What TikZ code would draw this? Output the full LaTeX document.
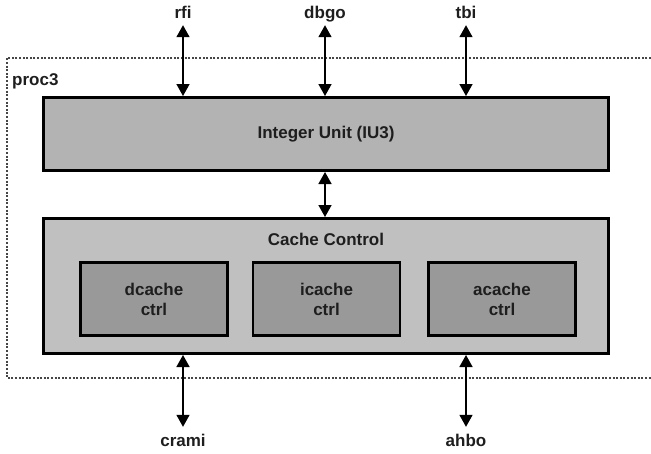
\documentclass[tikz,border=0pt]{standalone}
\usepackage{fontspec}
\setmainfont{Liberation Sans}
\usetikzlibrary{arrows.meta, positioning}
\definecolor{iugray}  {RGB}{179, 179, 179}
\definecolor{ccgray}  {RGB}{192, 192, 192}
\definecolor{subgray} {RGB}{153, 153, 153}
\definecolor{txtdark} {RGB}{ 30,  30,  30}
\definecolor{procdot} {RGB}{ 70,  70,  70}
\tikzset{
	lbl/.style={font=\fontsize{17}{20}\selectfont\bfseries, text=txtdark},
	unitbox/.style={lbl, draw=black, line width=3pt, inner sep=0pt, minimum width=565pt},
	subbox/.style={lbl, draw=black, line width=2.5pt, fill=subgray, align=center,
		inner sep=0pt, minimum width=147pt, minimum height=73pt},
	port/.style={lbl, inner sep=0pt, inner ysep=7pt, text height=12pt, text depth=0pt},
	sig/.style={line width=1.6pt, {Triangle[width=13pt,length=12pt]}-{Triangle[width=13pt,length=12pt]}}
}
\begin{document}
\begin{tikzpicture}[x=1pt,y=-1pt]
	\useasboundingbox (0,0) rectangle (651,453);
	% proc3 frame, open to the right
	\draw[procdot, line width=2pt, dash pattern=on 2pt off 1.6pt] (651,58) -- (7,58) -- (7,378) -- (651,378);
	\node[lbl, anchor=base west, inner sep=0pt] (proc) at (12,85) {proc3};
	% units
	\node[unitbox, fill=iugray, minimum height=73pt] (iu) at (326,134) {Integer Unit (IU3)};
	\node[unitbox, fill=ccgray, minimum height=135pt] (cc) at (326,286) {};
	\node[lbl, anchor=base] (cctitle) at (326,245) {Cache Control};
	\node[subbox] (dc) at (154,299) {dcache\\ctrl};
	\node[subbox] (ic) at (326.5,299) {icache\\ctrl};
	\node[subbox] (ac) at (502,299) {acache\\ctrl};
	% ports
	\node[port, anchor=base] (rfi)   at (183,18)  {rfi};
	\node[port, anchor=base] (dbgo)  at (325,18)  {dbgo};
	\node[port, anchor=base] (tbi)   at (466,18)  {tbi};
	\node[port, anchor=base] (crami) at (183,446) {crami};
	\node[port, anchor=base] (ahbo)  at (466,446) {ahbo};
	\draw[sig] (rfi.south) -- (rfi.south |- iu.north);
	\draw[sig] (dbgo.south) -- (dbgo.south |- iu.north);
	\draw[sig] (tbi.south) -- (tbi.south |- iu.north);
	\draw[sig] (iu.south -| dbgo) -- (cc.north -| dbgo);
	\draw[sig] (crami.north) -- (crami.north |- cc.south);
	\draw[sig] (ahbo.north) -- (ahbo.north |- cc.south);
\end{tikzpicture}
\end{document}
